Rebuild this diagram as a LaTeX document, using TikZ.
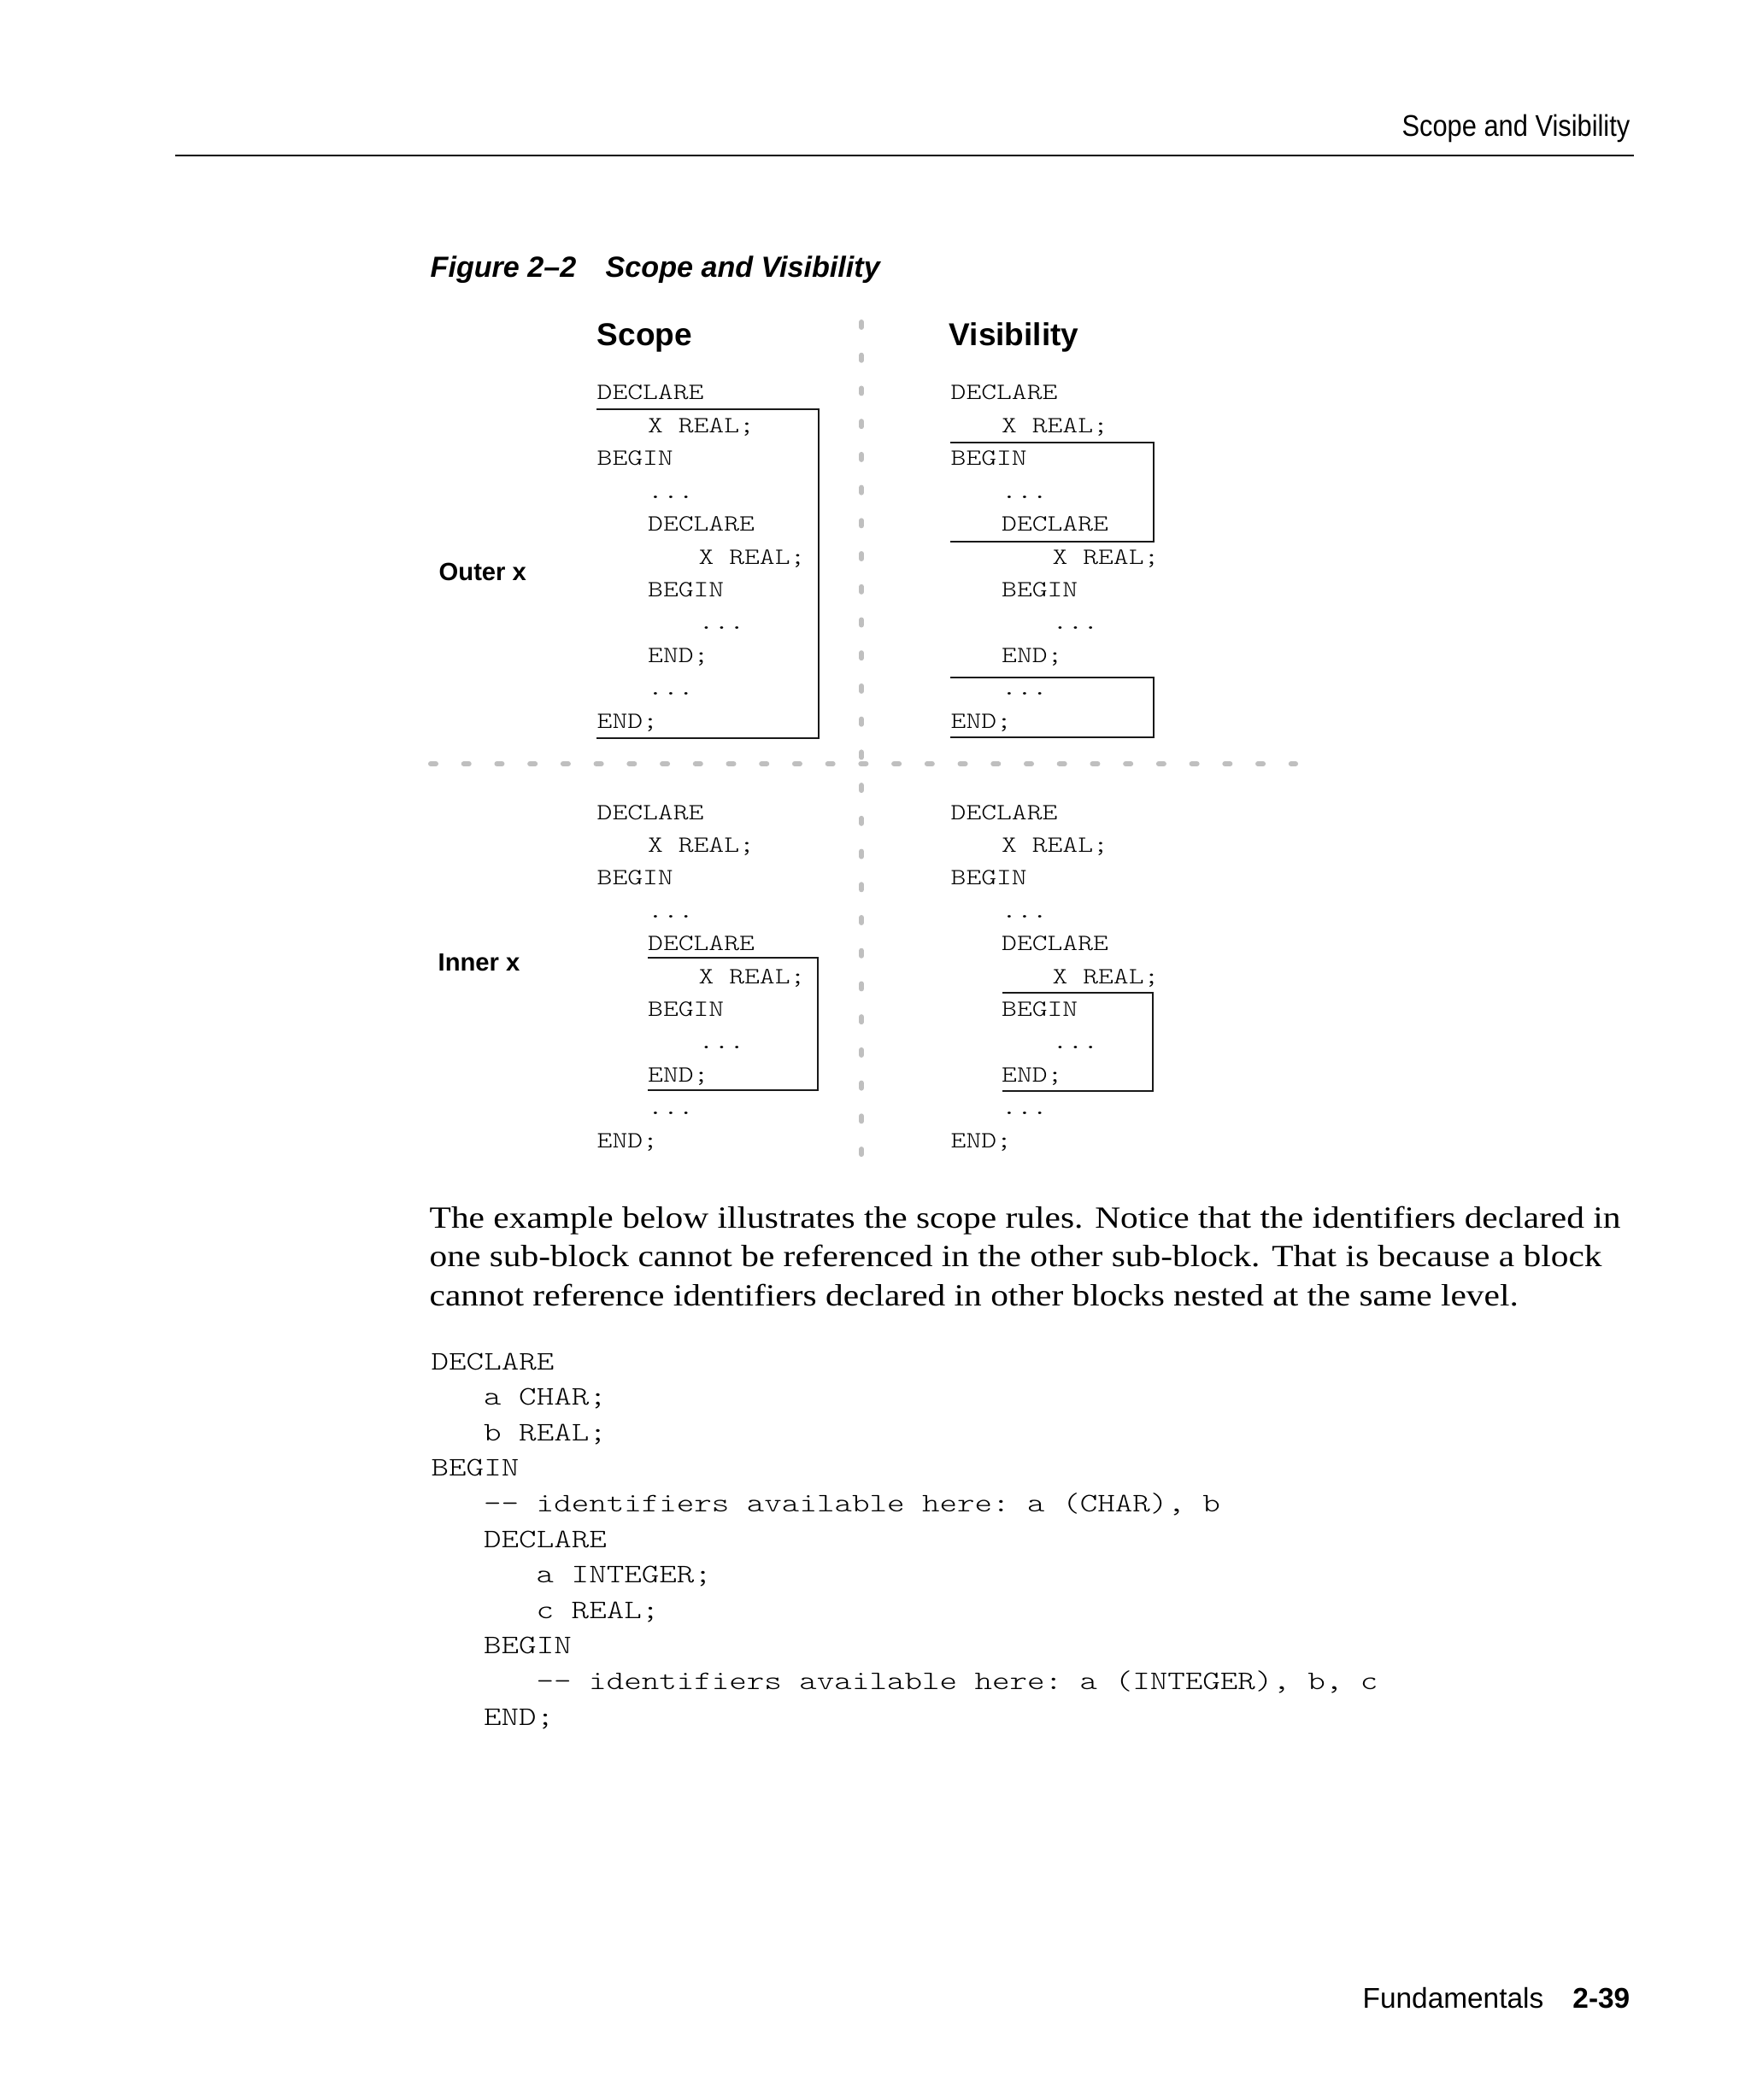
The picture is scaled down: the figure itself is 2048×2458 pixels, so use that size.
\documentclass[tikz,border=0pt]{standalone}
\usepackage{fontspec}
\setmainfont[FakeStretch=1.15]{Liberation Serif}
\setsansfont{Liberation Sans}
\setmonofont[FakeStretch=1.25]{lmmonolt10-regular.otf}
\newfontfamily\narrowsans[FakeStretch=0.88]{Liberation Sans}
\newcommand{\codedots}{...}
\tikzset{
  txt/.style={inner sep=0pt, anchor=base west},
  figcode/.style={txt, font=\fontsize{7.72pt}{10pt}\selectfont\ttfamily},
  listcode/.style={txt, font=\fontsize{8.89pt}{11.8pt}\selectfont\ttfamily},
  bodytext/.style={txt, font=\fontsize{10.24pt}{13pt}\selectfont\rmfamily},
  rowlabel/.style={txt, font=\fontsize{8.3pt}{10pt}\selectfont\sffamily\bfseries},
  colhead/.style={txt, font=\fontsize{10.53pt}{12pt}\selectfont\sffamily\bfseries},
  scopebox/.style={line width=0.016cm, black!90},
  sepline/.style={line width=0.06cm, line cap=round, black!25, dash pattern=on 0.06cm off 0.327cm},
}
\begin{document}
\begin{tikzpicture}[x=0.01cm, y=-0.01cm]
\useasboundingbox (0,0) rectangle (2048,2458);
\fill[white] (0,0) rectangle (2048,2458);
% running head
\node[txt, anchor=base east, font=\fontsize{9.96pt}{12pt}\selectfont\narrowsans] (runhead) at (1908,160) {Scope and Visibility};
\draw[line width=0.013cm] (205,182) -- (1912,182);
% caption
\node[txt, font=\fontsize{9.7pt}{12pt}\selectfont\sffamily\bfseries\itshape] (fignum) at (503,325) {Figure 2–2};
\node[txt, font=\fontsize{9.7pt}{12pt}\selectfont\sffamily\bfseries\itshape] (figtitle) at (708,325) {Scope and Visibility};
% column heads and row labels
\node[colhead] (scopehead) at (698,404) {Scope};
\node[colhead] (vishead) at (1110,404) {Visibility};
\node[rowlabel] (outerx) at (513,679) {Outer x};
\node[rowlabel] (innerx) at (512,1136) {Inner x};
% the four code blocks
\foreach \col in {698,1112}
  \foreach \row in {468,959}
    \foreach \lvl/\stmt [count=\i from 0] in {0/DECLARE,1/X REAL;,0/BEGIN,1/\codedots,1/DECLARE,2/X REAL;,1/BEGIN,2/\codedots,1/END;,1/\codedots,0/END;}
      \node[figcode] at (\col+59.5*\lvl, \row+38.4*\i) {\stmt};
% boxes
\draw[scopebox] (698,479) -- (958,479) -- (958,864) -- (698,864);
\draw[scopebox] (1112,518) -- (1350,518) -- (1350,634) -- (1112,634);
\draw[scopebox] (1112,793) -- (1350,793) -- (1350,863) -- (1112,863);
\draw[scopebox] (758,1121) -- (957,1121) -- (957,1276) -- (758,1276);
\draw[scopebox] (1173,1162) -- (1349,1162) -- (1349,1277) -- (1173,1277);
% separators
\draw[sepline] (1008,377) -- (1008,1352);
\draw[sepline] (504,894) -- (1516,894);
% paragraph
\node[bodytext] (par1) at (502,1437) {The example below illustrates the scope rules. Notice that the identifiers declared in};
\node[bodytext] (par2) at (502,1482) {one sub-block cannot be referenced in the other sub-block. That is because a block};
\node[bodytext] (par3) at (502,1528) {cannot reference identifiers declared in other blocks nested at the same level.};
% listing
\foreach \lvl/\stmt [count=\i from 0] in {0/DECLARE,1/a CHAR;,1/b REAL;,0/BEGIN,1/{-- identifiers available here: a (CHAR), b},1/DECLARE,2/a INTEGER;,2/c REAL;,1/BEGIN,2/{-- identifiers available here: a (INTEGER), b, c},1/END;}
  \node[listcode] at (504+61.5*\lvl, 1603+41.6*\i) {\stmt};
% footer
\node[txt, anchor=base east, font=\fontsize{9.5pt}{12pt}\selectfont\sffamily] (chapter) at (1807,2350) {Fundamentals};
\node[txt, anchor=base east, font=\fontsize{9.5pt}{12pt}\selectfont\sffamily\bfseries] (folio) at (1908,2350) {2-39};
\end{tikzpicture}
\end{document}
